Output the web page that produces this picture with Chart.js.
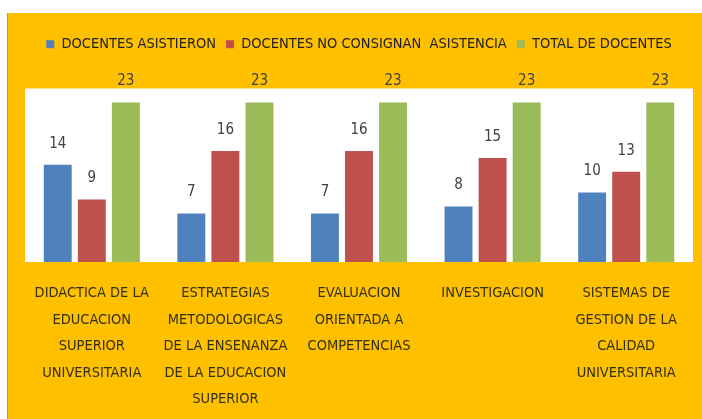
<!DOCTYPE html>
<html lang="es">
<head>
    <meta charset="UTF-8">
    <title>Docentes por capacitación</title>
    <script src="https://cdn.jsdelivr.net/npm/chart.js"></script>
    <style>
        body {
        margin: 0;
        padding: 0;
        background-color: #fff;
        }
        .panel {
        position: absolute;
        left: 7px;
        top: 13px;
        width: 695px;
        height: 406px;
        background-color: #FFC000;
        border-left: 1px solid #b89a55;
        box-sizing: border-box;
        }
    </style>
</head>
<body>
    <div class="panel">
        <canvas id="chart"></canvas>
    </div>

    <script>
        const categories = [
        ['DIDACTICA DE LA', 'EDUCACION', 'SUPERIOR', 'UNIVERSITARIA'],
        ['ESTRATEGIAS', 'METODOLOGICAS', 'DE LA ENSENANZA', 'DE LA EDUCACION', 'SUPERIOR'],
        ['EVALUACION', 'ORIENTADA A', 'COMPETENCIAS'],
        ['INVESTIGACION'],
        ['SISTEMAS DE', 'GESTION DE LA', 'CALIDAD', 'UNIVERSITARIA']
        ];
        const asistieron = [14, 7, 7, 8, 10];
        const noConsignan = [9, 16, 16, 15, 13];
        const totalDocentes = [23, 23, 23, 23, 23];

        const FONT = "'DejaVu Sans Condensed', 'Liberation Sans Narrow', sans-serif";

        // fondo blanco del área de trazado
        const plotBg = {
        id: 'plotBg',
        beforeDraw(chart) {
            const a = chart.chartArea;
            chart.ctx.save();
            chart.ctx.fillStyle = '#ffffff';
            chart.ctx.fillRect(a.left, a.top, a.right - a.left, a.bottom - a.top);
            chart.ctx.restore();
        }
        };

        // espacio extra bajo la leyenda
        const legendGap = {
        id: 'legendGap',
        beforeInit(chart) {
            const fit = chart.legend.fit;
            chart.legend.fit = function () {
            fit.call(this);
            this.height += 27;
            };
        }
        };

        // etiquetas de valor encima de cada barra
        const valueLabels = {
        id: 'valueLabels',
        afterDatasetsDraw(chart) {
            const ctx = chart.ctx;
            ctx.save();
            ctx.font = '15px ' + FONT;
            ctx.fillStyle = '#404040';
            ctx.textAlign = 'center';
            ctx.textBaseline = 'middle';
            chart.data.datasets.forEach((ds, i) => {
            chart.getDatasetMeta(i).data.forEach((bar, j) => {
                ctx.fillText(ds.data[j], bar.x, bar.y - 21);
            });
            });
            ctx.restore();
        }
        };

        const ctx = document.getElementById('chart').getContext('2d');
        new Chart(ctx, {
        type: 'bar',
        data: {
            labels: categories,
            datasets: [
            { label: 'DOCENTES ASISTIERON', data: asistieron, backgroundColor: '#4F81BD' },
            { label: 'DOCENTES NO CONSIGNAN  ASISTENCIA', data: noConsignan, backgroundColor: '#C0504D' },
            { label: 'TOTAL DE DOCENTES', data: totalDocentes, backgroundColor: '#9BBB59' }
            ]
        },
        options: {
            responsive: true,
            maintainAspectRatio: false,
            animation: false,
            categoryPercentage: 0.765,
            barPercentage: 0.82,
            layout: { padding: { left: 17, right: 9, top: 14, bottom: 0 } },
            plugins: {
            legend: {
                position: 'top',
                labels: {
                boxWidth: 8,
                boxHeight: 8,
                padding: 10,
                color: '#222222',
                font: { family: FONT, size: 14.5 }
                }
            },
            tooltip: { enabled: false }
            },
            scales: {
            x: {
                grid: { display: false },
                border: { display: false },
                ticks: {
                color: '#33300f',
                font: { family: FONT, size: 14.5, lineHeight: 1.83 },
                maxRotation: 0,
                autoSkip: false,
                padding: 10
                },
                afterFit(scale) { scale.height = 157; }
            },
            y: {
                display: false,
                min: 0,
                max: 25
            }
            }
        },
        plugins: [plotBg, legendGap, valueLabels]
        });
    </script>
</body>
</html>
